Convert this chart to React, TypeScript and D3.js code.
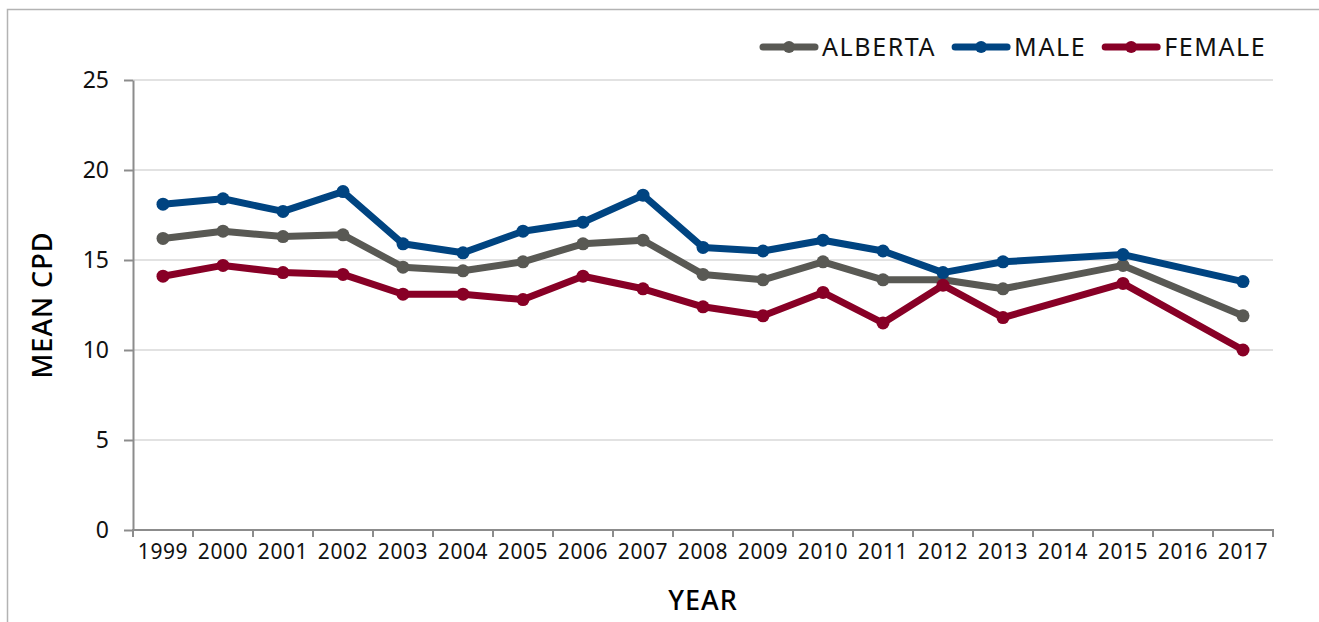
import { useEffect, useRef } from 'react'
import * as d3 from 'd3'

const YEARS = ['1999','2000','2001','2002','2003','2004','2005','2006','2007','2008','2009','2010','2011','2012','2013','2014','2015','2016','2017']
// null = no survey that year, line joins the neighbours
const ALBERTA = [16.2,16.6,16.3,16.4,14.6,14.4,14.9,15.9,16.1,14.2,13.9,14.9,13.9,13.9,13.4,null,14.7,null,11.9]
const MALE = [18.1,18.4,17.7,18.8,15.9,15.4,16.6,17.1,18.6,15.7,15.5,16.1,15.5,14.3,14.9,null,15.3,null,13.8]
const FEMALE = [14.1,14.7,14.3,14.2,13.1,13.1,12.8,14.1,13.4,12.4,11.9,13.2,11.5,13.6,11.8,null,13.7,null,10.0]
const SERIES = ['ALBERTA','MALE','FEMALE']
const Y_TICKS = [0,5,10,15,20,25]

const COLORS: Record<string,string> = { ALBERTA:'#595954', MALE:'#004481', FEMALE:'#880026' }
const FONT = '"Noto Sans", sans-serif'

export default function App() {
  const ref = useRef<SVGSVGElement>(null)
  useEffect(() => {
    if (!ref.current) return
    const W = 1319, H = 622
    const svg = d3.select(ref.current)
    svg.selectAll('*').remove()
    svg.attr('width', W).attr('height', H)

    svg.append('rect').attr('x',7.5).attr('y',9.5).attr('width',W).attr('height',H)
      .attr('fill','#fff').attr('stroke','#b3b3b3').attr('stroke-width',1.5)

    const m = { left:133, right:1273, top:80, bottom:530 }
    const x = d3.scaleBand<string>().domain(YEARS).range([m.left,m.right]).padding(0)
    const y = d3.scaleLinear().domain([0,25]).range([m.bottom,m.top])
    const cx = (yr:string) => (x(yr) as number) + x.bandwidth()/2

    // grid
    svg.append('g').selectAll('line').data(Y_TICKS.filter(t=>t>0)).join('line')
      .attr('x1',m.left).attr('x2',m.right).attr('y1',d=>y(d)).attr('y2',d=>y(d))
      .attr('stroke','#d9d9d9').attr('stroke-width',1.3)

    // y axis
    const gy = svg.append('g').attr('transform',`translate(${m.left},0)`)
      .call(d3.axisLeft(y).tickValues(Y_TICKS).tickSize(9).tickPadding(15).tickSizeOuter(0))
    gy.select('.domain').attr('stroke','#8c8c8c').attr('stroke-width',2)
    gy.selectAll('.tick line').attr('stroke','#8c8c8c').attr('stroke-width',2)
    gy.selectAll('.tick text').attr('font-family',FONT).attr('font-size',23).attr('fill','#111')

    // x axis
    const gx = svg.append('g').attr('transform',`translate(0,${m.bottom})`)
      .call(d3.axisBottom(x).tickSize(0).tickPadding(14))
    gx.select('.domain').attr('stroke','#8c8c8c').attr('stroke-width',2)
      .attr('d',`M${m.left},7V0H${m.right}V7`)
    gx.selectAll('.tick text').attr('font-family',FONT).attr('font-size',21).attr('letter-spacing',0.6).attr('fill','#111')
    gx.append('g').selectAll('line').data(YEARS.slice(1)).join('line')
      .attr('x1',d=>x(d) as number).attr('x2',d=>x(d) as number).attr('y1',0).attr('y2',7)
      .attr('stroke','#8c8c8c').attr('stroke-width',2)

    // axis titles
    svg.append('text').attr('x',703).attr('y',610).attr('text-anchor','middle')
      .attr('font-family',FONT).attr('font-size',27).attr('font-weight',500).attr('letter-spacing',1).text('YEAR')
    svg.append('text').attr('transform','translate(52,305) rotate(-90)').attr('text-anchor','middle')
      .attr('font-family',FONT).attr('font-size',27).attr('font-weight',500).attr('letter-spacing',1).text('MEAN CPD')

    const data: Record<string,(number|null)[]> = { ALBERTA, MALE, FEMALE }
    const line = d3.line<{yr:string,v:number}>().x(d=>cx(d.yr)).y(d=>y(d.v))
    SERIES.forEach(s => {
      const pts = YEARS.map((yr,i)=>({yr, v:data[s][i]})).filter(d=>d.v!=null) as {yr:string,v:number}[]
      const g = svg.append('g')
      g.append('path').datum(pts).attr('d',line).attr('fill','none')
        .attr('stroke',COLORS[s]).attr('stroke-width',7).attr('stroke-linejoin','round').attr('stroke-linecap','round')
      g.selectAll('circle').data(pts).join('circle')
        .attr('cx',d=>cx(d.yr)).attr('cy',d=>y(d.v)).attr('r',6.5).attr('fill',COLORS[s])
    })

    // legend
    let lx = 760
    const ly = 47
    SERIES.forEach(s => {
      const g = svg.append('g')
      g.append('line').attr('x1',lx+3).attr('x2',lx+55).attr('y1',ly).attr('y2',ly)
        .attr('stroke',COLORS[s]).attr('stroke-width',7).attr('stroke-linecap','round')
      g.append('circle').attr('cx',lx+29).attr('cy',ly).attr('r',6).attr('fill',COLORS[s])
      const t = g.append('text').attr('x',lx+62).attr('y',ly+9).attr('font-family',FONT)
        .attr('font-size',25).attr('letter-spacing',1.6).attr('fill','#111').text(s)
      const w = (t.node() as SVGTextElement).getComputedTextLength()
      lx = lx + 62 + w + 16
    })
  }, [])
  return <svg ref={ref} style={{ display:'block', position:'absolute', left:0, top:0 }} />
}
